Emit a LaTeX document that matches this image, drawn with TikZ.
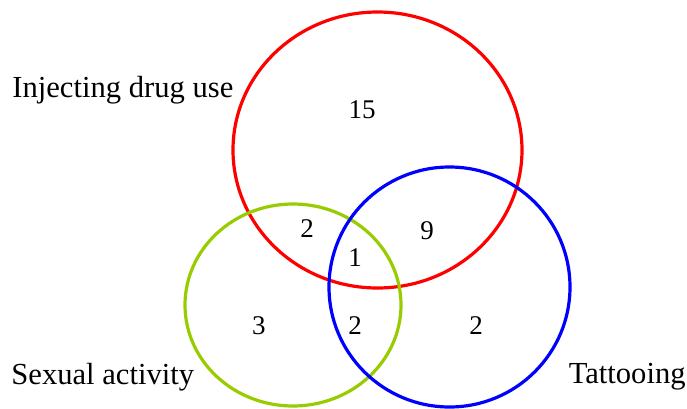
\documentclass[tikz,border=0pt]{standalone}
\usepackage{fontspec}
\setmainfont{Liberation Serif}
\definecolor{sexgreen}{RGB}{153,204,0}

\begin{document}
\begin{tikzpicture}[x=0.5pt, y=-0.5pt,
  set/.style={line width=1.6pt},
  num/.style={font=\fontsize{13.5}{16}\selectfont},
  lbl/.style={font=\fontsize{15.3}{18}\selectfont, inner sep=0pt}]
\useasboundingbox (0,0) rectangle (687,408);
% the three sets
\draw[set, red] (377.5,150) ellipse [x radius=144.5, y radius=138];
\draw[set, sexgreen] (293,305) ellipse [x radius=108, y radius=101];
\draw[set, blue] (449.5,287) ellipse [x radius=120.5, y radius=120];
% set names
\node[lbl, anchor=west] (idu) at (12,90) {Injecting drug use};
\node[lbl, anchor=west] (sex) at (11,377) {Sexual activity};
\node[lbl, anchor=east] (tat) at (686,377) {Tattooing};
% counts
\node[num] (i) at (362,110) {15};
\node[num] (is) at (307,229) {2};
\node[num] (it) at (427,231) {9};
\node[num] (ist) at (355,258) {1};
\node[num] (s) at (259,326) {3};
\node[num] (st) at (355,326) {2};
\node[num] (t) at (476,326) {2};
\end{tikzpicture}
\end{document}
